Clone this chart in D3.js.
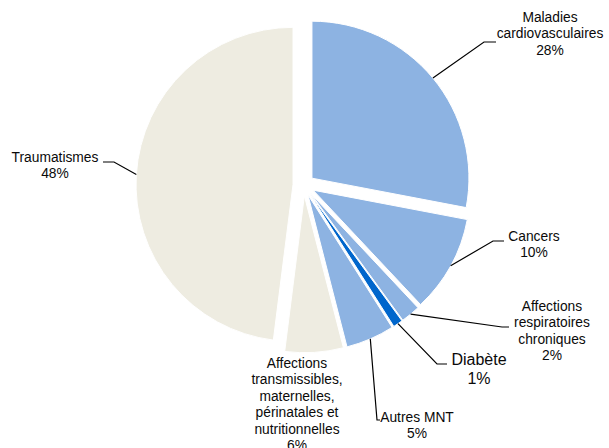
<!DOCTYPE html>
<html>
<head>
<meta charset="utf-8">
<script src="https://cdn.jsdelivr.net/npm/d3@7"></script>
<style>
  html, body { margin: 0; padding: 0; background: #fff; }
  svg { display: block; }
  text { font-family: "Liberation Sans", Arial, sans-serif; fill: #0a0a0a; }
</style>
</head>
<body>
<div id="chart"></div>
<script>
let width = 609,
    height = 448;

// data
let categories = [
    ["Maladies", "cardiovasculaires"],
    ["Cancers"],
    ["Affections", "respiratoires", "chroniques"],
    ["Diabète"],
    ["Autres MNT"],
    ["Affections", "transmissibles,", "maternelles,", "périnatales et", "nutritionnelles"],
    ["Traumatismes"]
];
let values = [28, 10, 2, 1, 5, 6, 48];
let percentLabels = ["28%", "10%", "2%", "1%", "5%", "6%", "48%"];

// styles
let colors = ["#8db3e2", "#8db3e2", "#8db3e2", "#0066cc", "#8db3e2", "#eeece1", "#eeece1"];
let fontSizes = [13.8, 13.8, 13.8, 16, 13.8, 13.8, 13.8];

// label layout: text centre x, first baseline y, elbow of leader line, end of leader line
let labelLayout = [
    { x: 550, y: 22, elbow: [484, 42], end: [496, 42] },
    { x: 534, y: 241, elbow: [493, 241], end: [504, 241] },
    { x: 552, y: 311, elbow: [502, 327], end: [509, 327] },
    { x: 479, y: 365, elbow: [437, 364], end: [447, 364] },
    { x: 417, y: 422, elbow: [377, 420], end: [380, 420] },
    { x: 297, y: 368, elbow: null, end: null },
    { x: 55, y: 162, elbow: [114, 162], end: [103, 162] }
];

let cx = 303.7,
    cy = 185,
    radius = 157,
    explode = 10.7;

let svg = d3.select("#chart")
    .append("svg")
    .attr("width", width)
    .attr("height", height);

let pie = d3.pie().sort(null).value(d => d);
let arcs = pie(values);

let arc = d3.arc().innerRadius(0).outerRadius(radius);

function offset(d) {
    let a = (d.startAngle + d.endAngle) / 2;
    return [Math.sin(a) * explode, -Math.cos(a) * explode];
}

let g = svg.append("g")
    .attr("transform", "translate(" + cx + "," + cy + ")");

g.selectAll("path.slice")
    .data(arcs)
    .enter()
    .append("path")
    .attr("class", "slice")
    .attr("transform", d => "translate(" + offset(d) + ")")
    .attr("d", arc)
    .style("fill", (d, i) => colors[i])
    .style("stroke", "#fff")
    .style("stroke-width", 1);

// leader lines
arcs.forEach(function (d, i) {
    let lay = labelLayout[i];
    if (!lay.elbow) return;
    let a = (d.startAngle + d.endAngle) / 2;
    let o = offset(d);
    let sx = cx + o[0] + Math.sin(a) * radius,
        sy = cy + o[1] - Math.cos(a) * radius;
    svg.append("polyline")
        .attr("points", [[sx, sy], lay.elbow, lay.end].map(p => p.join(",")).join(" "))
        .style("fill", "none")
        .style("stroke", "#000")
        .style("stroke-width", 1.2);
});

// labels
categories.forEach(function (lines, i) {
    let lay = labelLayout[i];
    let fs = fontSizes[i];
    let lh = i === 3 ? 19 : 16.4;
    let t = svg.append("text")
        .attr("text-anchor", "middle")
        .style("font-size", fs + "px");
    lines.concat([percentLabels[i]]).forEach(function (s, j) {
        t.append("tspan")
            .attr("x", lay.x)
            .attr("y", lay.y + j * lh)
            .text(s);
    });
});
</script>
</body>
</html>
